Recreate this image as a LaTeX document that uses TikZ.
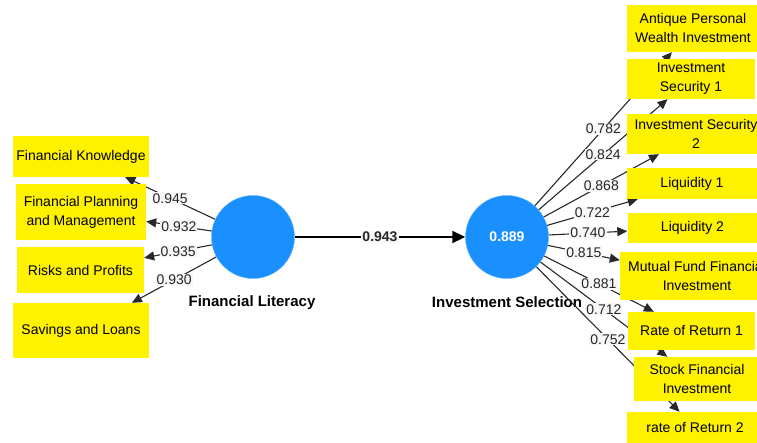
\documentclass[tikz,border=0pt]{standalone}
\usepackage{fontspec}
\setmainfont{Liberation Sans}
\usetikzlibrary{arrows.meta}

\pgfdeclarelayer{names}
\pgfdeclarelayer{edges}
\pgfsetlayers{names,edges,main}

\definecolor{lvblue}{RGB}{26,144,255}
\definecolor{edgegray}{RGB}{40,40,40}

\begin{document}
\begin{tikzpicture}
[
	x=1pt, y=-1pt,
	item/.style={fill=yellow, align=center, inner sep=0pt, font=\fontsize{14}{19}\selectfont},
	lv/.style={circle, fill=lvblue, draw=lvblue!70, minimum size=83pt, inner sep=0pt},
	lvname/.style={inner sep=0pt, font=\fontsize{15}{18}\selectfont\bfseries},
	loading/.style={-{Triangle[length=10pt,width=9pt]}, line width=1.1pt, draw=edgegray},
	wt/.style={fill=gray!6, inner sep=1pt, text=black!85, font=\fontsize{14}{16}\selectfont}
]

	\useasboundingbox (0,0) rectangle (757,443);
	\clip (0,0) rectangle (757,443);

	% latent variables
	\node[lv] (fl) at (253,237) {};
	\node[lv, text=white, font=\fontsize{14}{16}\selectfont\bfseries] (is) at (507,237) {0.889};

	\begin{pgfonlayer}{names}
	\node[lvname] (fltext) at (252,303) {Financial Literacy};
	\node[lvname] (istext) at (507,302) {Investment Selection};
	\end{pgfonlayer}

	% indicators of financial literacy
	\node[item, minimum width=136pt, minimum height=41pt] (fk) at (81,156.5) {Financial Knowledge};
	\node[item, minimum width=130pt, minimum height=56pt] (fpm) at (81,212) {Financial Planning\\and Management};
	\node[item, minimum width=127pt, minimum height=46pt] (rp) at (80.5,270) {Risks and Profits};
	\node[item, minimum width=136pt, minimum height=55pt] (sl) at (81,330.5) {Savings and Loans};

	% indicators of investment selection
	\node[item, minimum width=132pt, minimum height=47pt] (apwi) at (693,28.5) {Antique Personal\\Wealth Investment};
	\node[item, minimum width=128pt, minimum height=40pt] (is1) at (691,79) {Investment\\Security 1};
	\node[item, minimum width=138pt, minimum height=40pt] (is2) at (696,134) {Investment Security\\2};
	\node[item, minimum width=130pt, minimum height=31pt] (liq1) at (692,183.5) {Liquidity 1};
	\node[item, minimum width=130pt, minimum height=30pt] (liq2) at (692.5,228) {Liquidity 2};
	\node[item, minimum width=154pt, minimum height=48pt] (mfi) at (697,276) {Mutual Fund Financial\\Investment};
	\node[item, minimum width=127pt, minimum height=38pt] (rr1) at (691.5,331) {Rate of Return 1};
	\node[item, minimum width=126pt, minimum height=44pt] (sfi) at (697,379) {Stock Financial\\Investment};
	\node[item, minimum width=136pt, minimum height=31pt] (rr2) at (695,427.5) {rate of Return 2};

	\begin{pgfonlayer}{edges}
	% outer loadings
	\draw[loading] (fl) -- node[wt] {0.945} (fk);
	\draw[loading] (fl) -- node[wt] {0.932} (fpm);
	\draw[loading] (fl) -- node[wt] {0.935} (rp);
	\draw[loading] (fl) -- node[wt] {0.930} (sl);

	\draw[loading] (is) -- node[wt] {0.782} (apwi);
	\draw[loading] (is) -- node[wt] {0.824} (is1);
	\draw[loading] (is) -- node[wt] {0.868} (is2);
	\draw[loading] (is) -- node[wt] {0.722} (liq1);
	\draw[loading] (is) -- node[wt] {0.740} (liq2);
	\draw[loading] (is) -- node[wt] {0.815} (mfi);
	\draw[loading] (is) -- node[wt] {0.881} (rr1);
	\draw[loading] (is) -- node[wt] {0.712} (sfi);
	\draw[loading] (is) -- node[wt] {0.752} (rr2);

	% path coefficient
	\draw[-{Triangle[length=13pt,width=12pt]}, line width=2pt] (fl) -- node[wt, font=\fontsize{14}{16}\selectfont\bfseries] {0.943} (is);
	\end{pgfonlayer}

\end{tikzpicture}
\end{document}
